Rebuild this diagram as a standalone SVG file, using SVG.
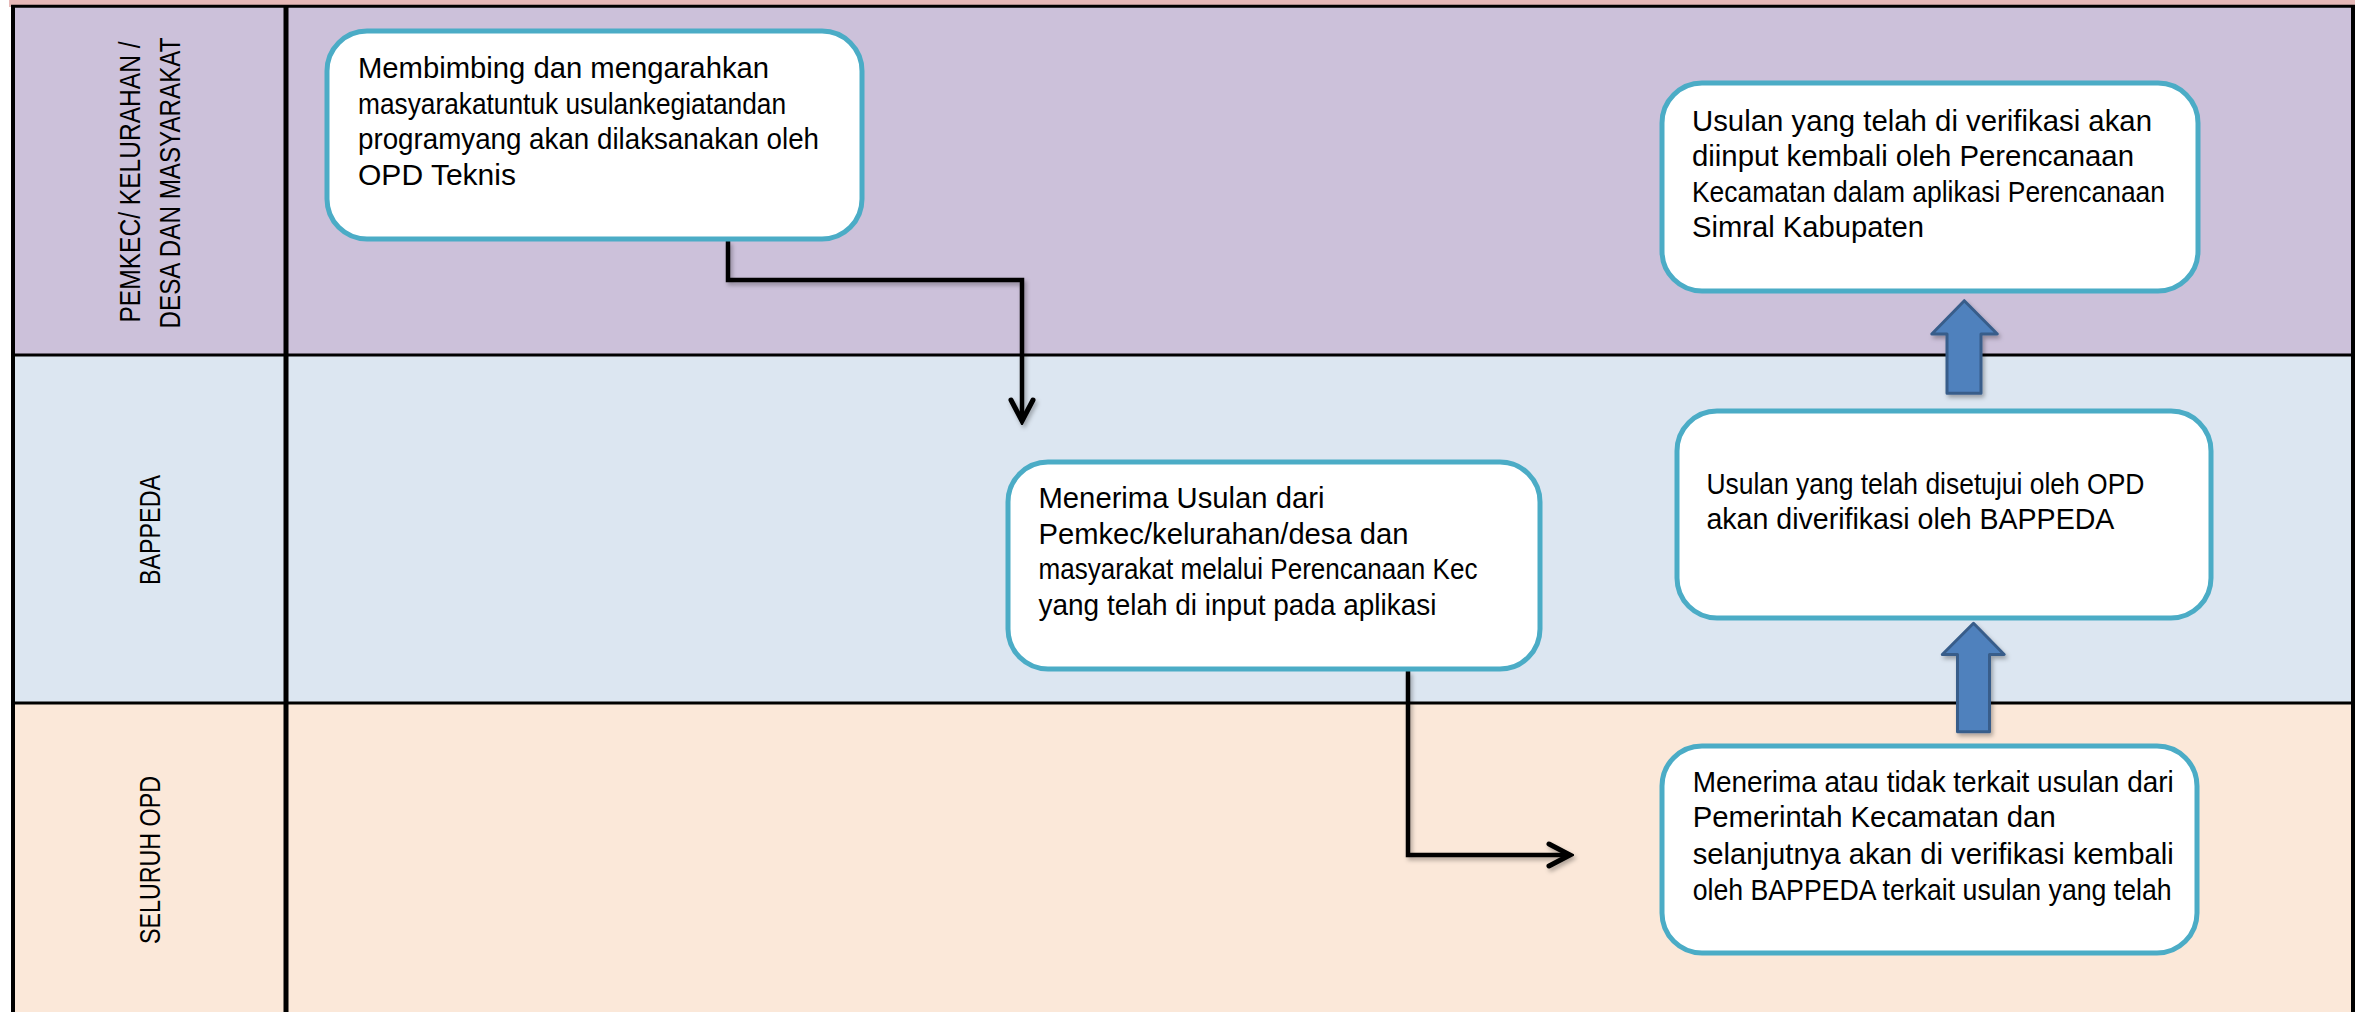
<svg xmlns="http://www.w3.org/2000/svg" width="2355" height="1012" viewBox="0 0 2355 1012">
<style>
.lane-label{font-family:"Liberation Sans",Arial,sans-serif;font-size:30px;fill:#000;text-anchor:middle}
.box{fill:#fff;stroke:#4BACC6;stroke-width:5}
.t{font-family:"Liberation Sans",Arial,sans-serif;font-size:29px;fill:#000}
.conn{fill:none;stroke:#000;stroke-width:4.5;stroke-linejoin:miter}
.blk{fill:#4F81BD;stroke:#385D8A;stroke-width:3;stroke-linejoin:round}
.border{stroke:#000;fill:none}
</style>
<defs>
<marker id="chev" markerUnits="userSpaceOnUse" viewBox="-30 -16 34 32" markerWidth="34" markerHeight="32" refX="0" refY="0" orient="auto">
<path d="M-21,-11 L0,0 L-21,11" fill="none" stroke="#000" stroke-width="5" stroke-linecap="round" stroke-linejoin="miter"/>
</marker>
<filter id="sh" x="-10%" y="-10%" width="130%" height="130%">
<feDropShadow dx="2" dy="3" stdDeviation="2" flood-color="#000" flood-opacity="0.3"/>
</filter>
</defs>
<rect x="0" y="0" width="2355" height="1012" fill="#fff"/>
<g id="lanes">
<rect x="9" y="0" width="2346" height="7" fill="#E6B8B7"/>
<rect x="13" y="6" width="2340" height="349" fill="#CCC1DA"/>
<rect x="13" y="355" width="2340" height="348" fill="#DCE6F1"/>
<rect x="13" y="703" width="2340" height="309" fill="#FBE8D9"/>
<line class="border" x1="11" y1="6.3" x2="2355" y2="6.3" stroke-width="3"/>
<line class="border" x1="13" y1="355" x2="2353" y2="355" stroke-width="3"/>
<line class="border" x1="13" y1="703" x2="2353" y2="703" stroke-width="3"/>
<line class="border" x1="13" y1="5" x2="13" y2="1012" stroke-width="4"/>
<line class="border" x1="286" y1="5" x2="286" y2="1012" stroke-width="5"/>
<line class="border" x1="2353" y1="5" x2="2353" y2="1012" stroke-width="4"/>
</g>
<g id="lane-pemkec">
<text class="lane-label" transform="translate(140,182) rotate(-90)" x="0" y="0" textLength="281" lengthAdjust="spacingAndGlyphs">PEMKEC/ KELURAHAN /</text>
<text class="lane-label" transform="translate(180,183) rotate(-90)" x="0" y="0" textLength="291" lengthAdjust="spacingAndGlyphs">DESA DAN MASYARAKAT</text>
</g>
<g id="lane-bappeda">
<text class="lane-label" transform="translate(160,530) rotate(-90)" x="0" y="0" textLength="110" lengthAdjust="spacingAndGlyphs">BAPPEDA</text>
</g>
<g id="lane-opd">
<text class="lane-label" transform="translate(160,860) rotate(-90)" x="0" y="0" textLength="168" lengthAdjust="spacingAndGlyphs">SELURUH OPD</text>
</g>
<g id="connectors" filter="url(#sh)">
<path class="conn" d="M728,241 V280 H1022 V421" marker-end="url(#chev)"/>
<path class="conn" d="M1408,671 V855 H1570" marker-end="url(#chev)"/>
<polygon class="blk" points="1964.3,300.7 1997.3,334 1981,334 1981,393.3 1947,393.3 1947,334 1931.8,334"/>
<polygon class="blk" points="1973.5,623.3 2004.2,654.5 1989.5,654.5 1989.5,731.8 1957.5,731.8 1957.5,654.5 1942.3,654.5"/>
</g>
<g id="node-membimbing">
<rect class="box" x="327" y="31" width="535" height="208" rx="40" ry="40"/>
<text class="t" x="358" y="78" textLength="411" lengthAdjust="spacingAndGlyphs">Membimbing dan mengarahkan</text>
<text class="t" x="358" y="113.5" textLength="428" lengthAdjust="spacingAndGlyphs">masyarakatuntuk usulankegiatandan</text>
<text class="t" x="358" y="149" textLength="461" lengthAdjust="spacingAndGlyphs">programyang akan dilaksanakan oleh</text>
<text class="t" x="358" y="184.5" textLength="158" lengthAdjust="spacingAndGlyphs">OPD Teknis</text>
</g>
<g id="node-menerima-usulan">
<rect class="box" x="1008" y="462" width="532" height="207" rx="40" ry="40"/>
<text class="t" x="1038.5" y="508" textLength="286" lengthAdjust="spacingAndGlyphs">Menerima Usulan dari</text>
<text class="t" x="1038.5" y="543.5" textLength="370" lengthAdjust="spacingAndGlyphs">Pemkec/kelurahan/desa dan</text>
<text class="t" x="1038.5" y="579" textLength="439" lengthAdjust="spacingAndGlyphs">masyarakat melalui Perencanaan Kec</text>
<text class="t" x="1038.5" y="614.5" textLength="398" lengthAdjust="spacingAndGlyphs">yang telah di input pada aplikasi</text>
</g>
<g id="node-diinput">
<rect class="box" x="1662" y="83" width="536" height="208" rx="40" ry="40"/>
<text class="t" x="1692" y="130.7" textLength="460" lengthAdjust="spacingAndGlyphs">Usulan yang telah di verifikasi akan</text>
<text class="t" x="1692" y="166" textLength="442" lengthAdjust="spacingAndGlyphs">diinput kembali oleh Perencanaan</text>
<text class="t" x="1692" y="201.7" textLength="473" lengthAdjust="spacingAndGlyphs">Kecamatan dalam aplikasi Perencanaan</text>
<text class="t" x="1692" y="237.3" textLength="232" lengthAdjust="spacingAndGlyphs">Simral Kabupaten</text>
</g>
<g id="node-diverifikasi">
<rect class="box" x="1677" y="411" width="534" height="207" rx="40" ry="40"/>
<text class="t" x="1706.4" y="493.7" textLength="438" lengthAdjust="spacingAndGlyphs">Usulan yang telah disetujui oleh OPD</text>
<text class="t" x="1706.4" y="528.5" textLength="408" lengthAdjust="spacingAndGlyphs">akan diverifikasi oleh BAPPEDA</text>
</g>
<g id="node-opd">
<rect class="box" x="1662" y="746" width="535" height="207" rx="40" ry="40"/>
<text class="t" x="1692.7" y="791.5" textLength="481" lengthAdjust="spacingAndGlyphs">Menerima atau tidak terkait usulan dari</text>
<text class="t" x="1692.7" y="827.4" textLength="363" lengthAdjust="spacingAndGlyphs">Pemerintah Kecamatan dan</text>
<text class="t" x="1692.7" y="863.7" textLength="481" lengthAdjust="spacingAndGlyphs">selanjutnya akan di verifikasi kembali</text>
<text class="t" x="1692.7" y="899.6" textLength="479" lengthAdjust="spacingAndGlyphs">oleh BAPPEDA terkait usulan yang telah</text>
</g>
</svg>
